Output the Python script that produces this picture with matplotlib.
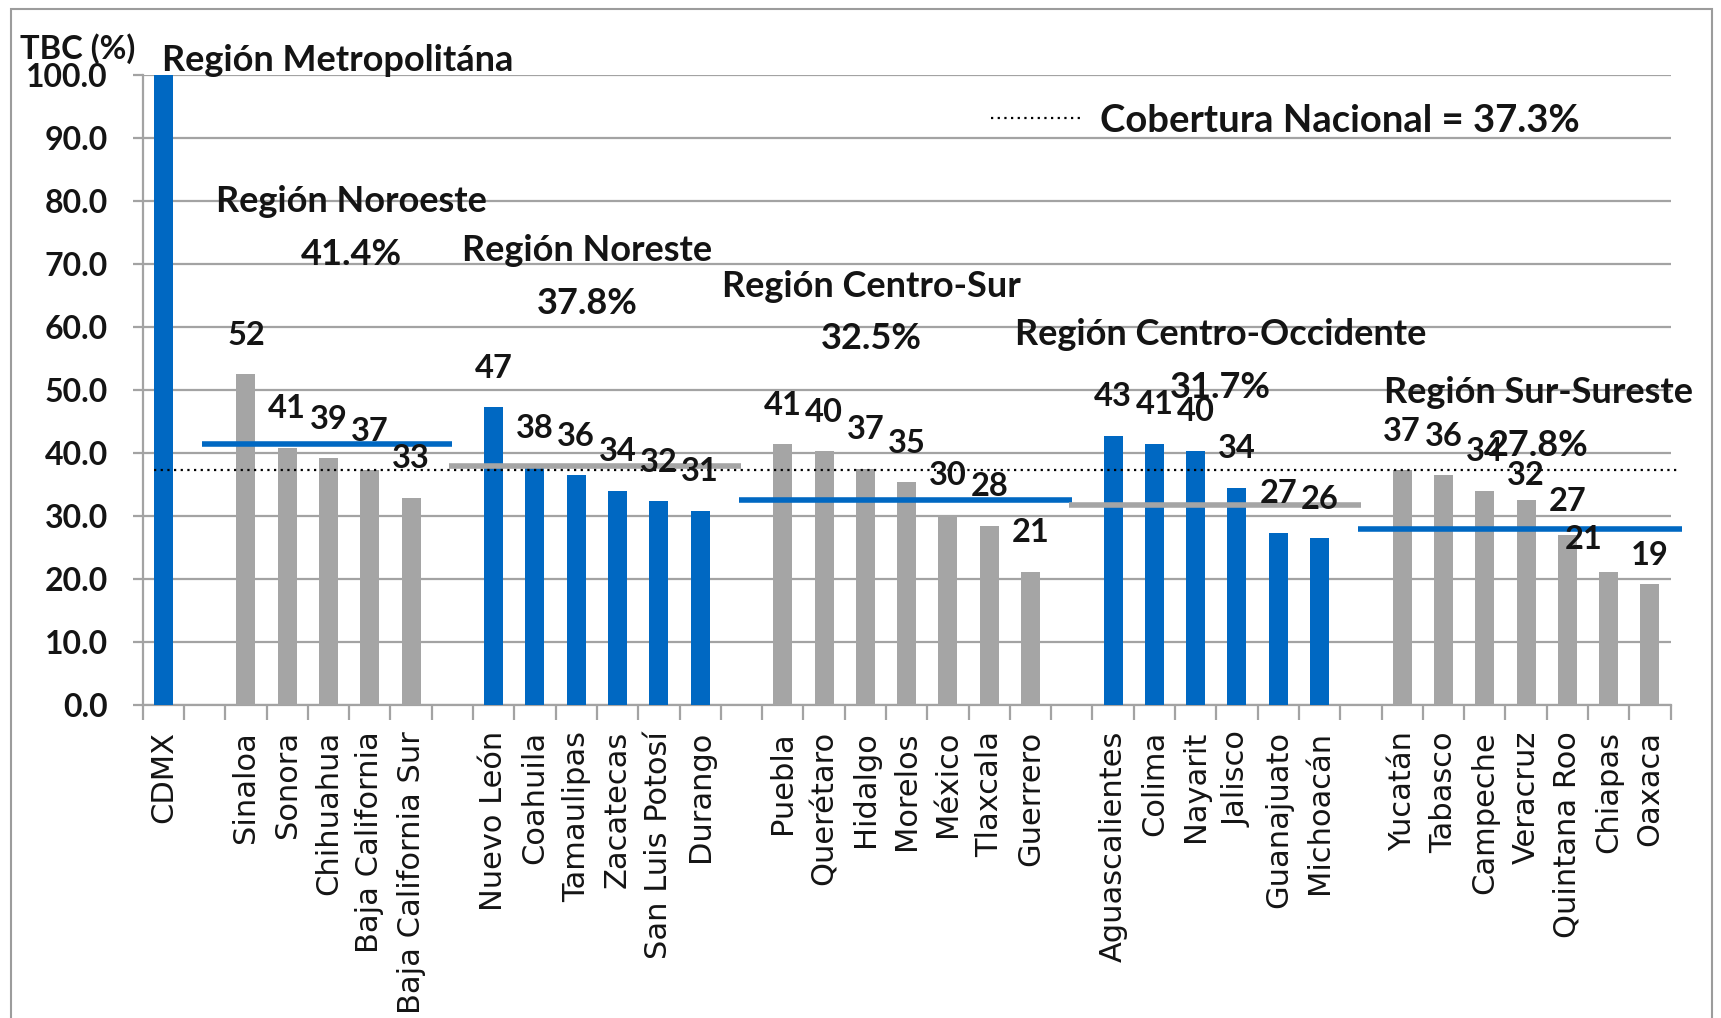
import matplotlib.pyplot as plt
import matplotlib.patches as mpatches
from matplotlib.lines import Line2D
import numpy as np

# TBC (%) por entidad, agrupado por region
region_names = ['Región Metropolitána', 'Región Noroeste', 'Región Noreste',
                'Región Centro-Sur', 'Región Centro-Occidente', 'Región Sur-Sureste']
region_means = [None, 41.4, 37.8, 32.5, 31.7, 27.8]

metropolitana = ['CDMX']
metropolitana_tbc = [100.0]

noroeste = ['Sinaloa', 'Sonora', 'Chihuahua', 'Baja California', 'Baja California Sur']
noroeste_tbc = [52.4, 40.8, 39.1, 37.2, 32.8]

noreste = ['Nuevo León', 'Coahuila', 'Tamaulipas', 'Zacatecas', 'San Luis Potosí', 'Durango']
noreste_tbc = [47.2, 37.6, 36.4, 33.9, 32.3, 30.8]

centro_sur = ['Puebla', 'Querétaro', 'Hidalgo', 'Morelos', 'México', 'Tlaxcala', 'Guerrero']
centro_sur_tbc = [41.3, 40.2, 37.4, 35.3, 30.1, 28.4, 21.1]

centro_occ = ['Aguascalientes', 'Colima', 'Nayarit', 'Jalisco', 'Guanajuato', 'Michoacán']
centro_occ_tbc = [42.7, 41.4, 40.3, 34.4, 27.3, 26.4]

sur_sureste = ['Yucatán', 'Tabasco', 'Campeche', 'Veracruz', 'Quintana Roo', 'Chiapas', 'Oaxaca']
sur_sureste_tbc = [37.2, 36.4, 33.9, 32.4, 27.0, 21.0, 19.1]

cobertura_nacional = 37.3

states = [metropolitana, noroeste, noreste, centro_sur, centro_occ, sur_sureste]
values = [metropolitana_tbc, noroeste_tbc, noreste_tbc, centro_sur_tbc, centro_occ_tbc, sur_sureste_tbc]

BLUE = '#0068C2'
GREY = '#A5A5A5'
GRID = '#a3a3a3'
TXT = '#141414'
bar_colors = [BLUE, GREY, BLUE, GREY, BLUE, GREY]
line_colors = [None, BLUE, GREY, BLUE, GREY, BLUE]

calibri = ['Lato', 'DejaVu Sans']
cat_font = 'DejaVu Sans'
W = 'bold'

# where the region titles sit (x centre, y of title)
title_pos = [(-0.04, 102.3), (4.55, 79.8), (10.27, 72.0), (17.15, 66.4), (25.6, 58.7), (33.3, 49.5)]
# manual nudges of a few value labels (dx, dy) as in the original
nudges = {'Veracruz': (0, -2.2), 'Quintana Roo': (0, -0.9), 'Chiapas': (-0.6, -1.0), 'Oaxaca': (0, -1.7)}

fig = plt.figure(figsize=(17.21, 10.18), dpi=100)
ax = fig.add_axes([0.0829, 0.3078, 0.8878, 0.619])

fig.patches.append(mpatches.Rectangle((0.0064, -0.01), 0.9886, 1.001, transform=fig.transFigure,
                                      fill=False, edgecolor='#9c9c9c', lw=1.5))

ticks, ticklabels = [], []
start = 0
for k in range(len(states)):
    pos = start + np.arange(len(states[k]))
    ax.bar(pos, values[k], width=0.46, color=bar_colors[k], zorder=3)
    for p, name, v in zip(pos, states[k], values[k]):
        ticks.append(p)
        ticklabels.append(name)
        if k == 0:
            continue
        dx, dy = nudges.get(name, (0, 0))
        ax.text(p + dx, v + 6.2 + dy, f'{round(v)}', ha='center', va='center',
                fontsize=23.5, family=calibri, weight=W, color=TXT, zorder=6)
    tx, ty = title_pos[k]
    if k == 0:
        ax.text(tx, ty, region_names[k], ha='left', va='center', fontsize=26,
                family=calibri, weight=W, color=TXT, clip_on=False)
    else:
        ax.text(tx, ty, region_names[k], ha='center', va='center', fontsize=26,
                family=calibri, weight=W, color=TXT, zorder=6)
        ax.text(tx, ty - 8.3, f'{region_means[k]}%', ha='center', va='center', fontsize=26,
                family=calibri, weight=W, color=TXT, zorder=6)
        ax.hlines(region_means[k], pos[0] - 1.07, min(pos[-1] + 1.0, 36.77), colors=line_colors[k],
                  lw=4, zorder=4, clip_on=False)
    start += len(states[k]) + 1

ax.hlines(cobertura_nacional, -0.23, 36.66, colors='black', linestyles=(0, (1, 2)),
          lw=1.6, zorder=5, clip_on=False)

ax.set_xlim(-0.5, 36.5)
ax.set_ylim(0, 100)

ax.set_yticks(np.arange(0, 101, 10))
ax.set_yticklabels([f'{v:.1f}' for v in np.arange(0, 101, 10)], fontsize=23, family=calibri,
                   weight=W, color=TXT)
ax.set_xticks(ticks)
ax.set_xticklabels(ticklabels, rotation=90, fontsize=22, family=cat_font, color=TXT, va='top')
ax.set_xticks(np.arange(-0.5, 37, 1), minor=True)
ax.tick_params(axis='x', which='major', length=0, pad=19)
ax.tick_params(axis='x', which='minor', length=11, width=1.6, color=GRID)
ax.tick_params(axis='y', length=7, width=1.6, color=GRID, pad=18)

ax.yaxis.grid(True, color=GRID, lw=1.6)
ax.set_axisbelow(True)
for s in ['top', 'right']:
    ax.spines[s].set_visible(False)
for s in ['left', 'bottom']:
    ax.spines[s].set_color(GRID)
    ax.spines[s].set_linewidth(1.6)

ax.text(-0.0805, 1.041, 'TBC (%)', transform=ax.transAxes, ha='left', va='center',
        fontsize=23.5, family=calibri, weight=W, color=TXT)

handle = Line2D([], [], color='black', linestyle=(0, (1, 2)), lw=1.6)
leg = ax.legend([handle], [f'Cobertura Nacional = {cobertura_nacional}%'], loc='center left',
                bbox_to_anchor=(0.555, 0.927), frameon=False, handlelength=2.45,
                handletextpad=0.4, borderpad=0, borderaxespad=0,
                prop={'family': calibri, 'size': 27.5, 'weight': W})
for t in leg.get_texts():
    t.set_color(TXT)

fig.savefig('out.png', dpi=100)
